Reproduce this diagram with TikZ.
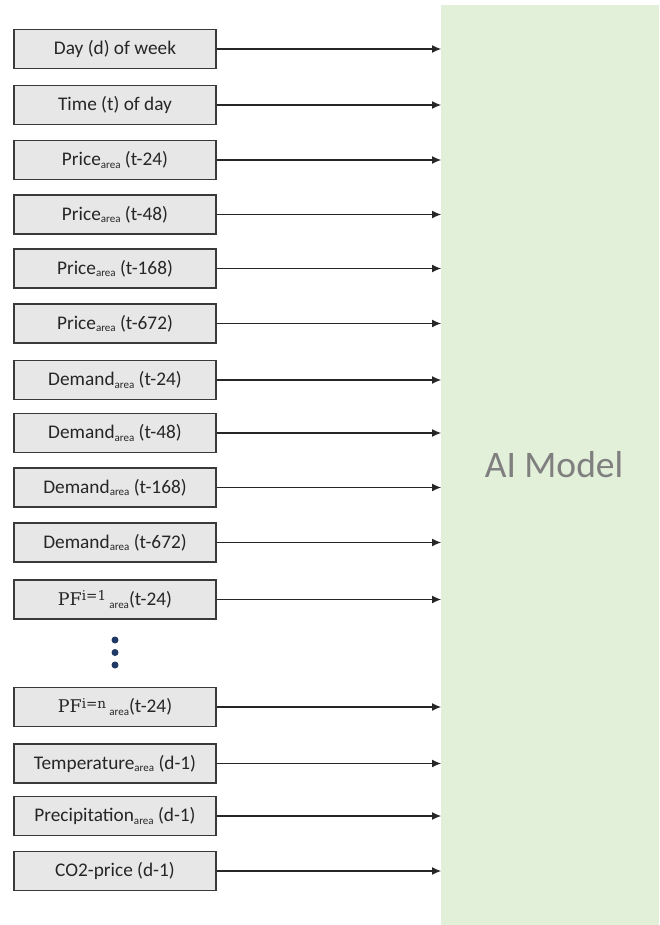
\documentclass[tikz,border=0pt]{standalone}
\usepackage{fontspec}
\setmainfont{Carlito}
\newfontfamily\pfserif{DejaVu Serif}
\usetikzlibrary{arrows.meta}
\definecolor{boxfill}{HTML}{E7E7E7}
\definecolor{boxline}{HTML}{3A3A3A}
\definecolor{modelfill}{HTML}{E2EFD9}
\definecolor{modeltext}{HTML}{7F7F7F}
\definecolor{dotblue}{HTML}{1F3864}
% small lowered index text, as in Price_area
\newcommand{\areaidx}{\raisebox{-0.3ex}{\fontsize{11}{11}\selectfont area}}
% serif PF with an index i=...
\newcommand{\pfterm}[1]{{\pfserif\fontsize{17.5}{19}\selectfont PF\raisebox{0.5ex}{\fontsize{13.5}{13.5}\selectfont #1}}}
\tikzset{
  inbox/.style={draw=boxline, line width=1.1pt, fill=boxfill, minimum width=202pt,
    minimum height=39pt, inner sep=0pt, text=black!85,
    font=\fontsize{19.3}{22}\selectfont},
  feed/.style={draw=black!85, line width=1.1pt, -{Latex[length=9pt,width=8pt]}},
  gap/.style={circle, fill=dotblue, minimum size=7pt, inner sep=0pt}
}
\begin{document}
\begin{tikzpicture}[x=1pt,y=-1pt]
\useasboundingbox (0,0) rectangle (659,925);
% model block
\node[fill=modelfill, minimum width=218pt, minimum height=920pt, inner sep=0pt, anchor=north west] (model) at (441,5) {};
\node[text=modeltext, font=\fontsize{37.5}{40}\selectfont] (label) at (554,465) {AI Model};
% input features
\node[inbox] (b1) at (115,49) {Day (d) of week};
\node[inbox] (b2) at (115,105) {Time (t) of day};
\node[inbox] (b3) at (115,160) {Price\areaidx{} (t-24)};
\node[inbox] (b4) at (115,214.5) {Price\areaidx{} (t-48)};
\node[inbox] (b5) at (115,268.5) {Price\areaidx{} (t-168)};
\node[inbox] (b6) at (115,323.5) {Price\areaidx{} (t-672)};
\node[inbox] (b7) at (115,380) {Demand\areaidx{} (t-24)};
\node[inbox] (b8) at (115,433) {Demand\areaidx{} (t-48)};
\node[inbox] (b9) at (115,487.5) {Demand\areaidx{} (t-168)};
\node[inbox] (b10) at (115,542.5) {Demand\areaidx{} (t-672)};
\node[inbox] (b11) at (115,599.5) {\pfterm{i=1}\,\areaidx(t-24)};
\node[inbox] (b12) at (115,707) {\pfterm{i=n}\,\areaidx(t-24)};
\node[inbox] (b13) at (115,763.5) {Temperature\areaidx{} (d-1)};
\node[inbox] (b14) at (115,816) {Precipitation\areaidx{} (d-1)};
\node[inbox] (b15) at (115,871) {CO2-price (d-1)};
% ellipsis between the PF terms
\node[gap] (d1) at (115,640) {};
\node[gap] (d2) at (115,652.5) {};
\node[gap] (d3) at (115,665) {};
% connectors into the model
\foreach \i in {1,...,15}
  \draw[feed] (b\i.east) -- (b\i.east -| model.west);
\end{tikzpicture}
\end{document}
